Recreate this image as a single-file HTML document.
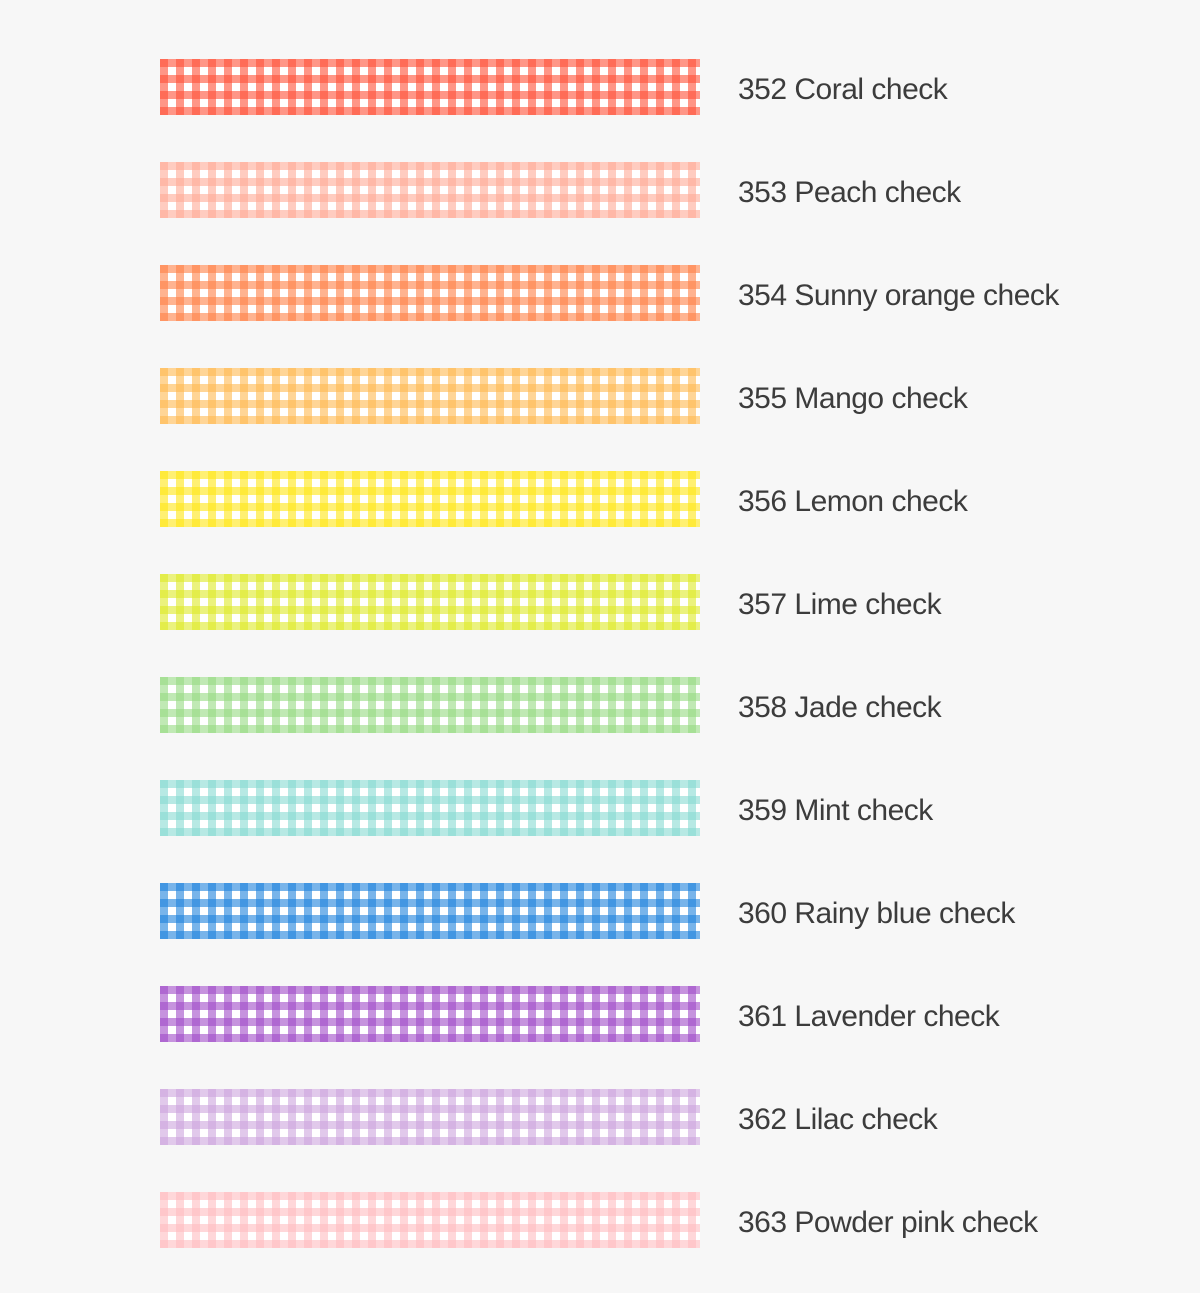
<!DOCTYPE html><html><head><style>
body{margin:0;width:1200px;height:1293px;background:#f7f7f7;overflow:hidden}
svg{display:block}
text{font-family:"Liberation Sans",sans-serif;font-size:30px;fill:#3c3c3c;letter-spacing:-0.5px}
</style></head><body>
<svg width="1200" height="1293" xmlns="http://www.w3.org/2000/svg">
<defs>
<pattern id="p0" width="16" height="16" patternUnits="userSpaceOnUse" x="160" y="59"><rect width="16" height="16" fill="#fff"/><rect width="8" height="16" fill="#ff5037" opacity=".6"/><rect width="16" height="8" fill="#ff5037" opacity=".6"/></pattern>
<pattern id="p1" width="16" height="16" patternUnits="userSpaceOnUse" x="160" y="162"><rect width="16" height="16" fill="#fff"/><rect width="8" height="16" fill="#ffaa96" opacity=".6"/><rect width="16" height="8" fill="#ffaa96" opacity=".6"/></pattern>
<pattern id="p2" width="16" height="16" patternUnits="userSpaceOnUse" x="160" y="265"><rect width="16" height="16" fill="#fff"/><rect width="8" height="16" fill="#ff8046" opacity=".6"/><rect width="16" height="8" fill="#ff8046" opacity=".6"/></pattern>
<pattern id="p3" width="16" height="16" patternUnits="userSpaceOnUse" x="160" y="368"><rect width="16" height="16" fill="#fff"/><rect width="8" height="16" fill="#ffb950" opacity=".6"/><rect width="16" height="8" fill="#ffb950" opacity=".6"/></pattern>
<pattern id="p4" width="16" height="16" patternUnits="userSpaceOnUse" x="160" y="471"><rect width="16" height="16" fill="#fff"/><rect width="8" height="16" fill="#ffe614" opacity=".6"/><rect width="16" height="8" fill="#ffe614" opacity=".6"/></pattern>
<pattern id="p5" width="16" height="16" patternUnits="userSpaceOnUse" x="160" y="574"><rect width="16" height="16" fill="#fff"/><rect width="8" height="16" fill="#deea28" opacity=".6"/><rect width="16" height="8" fill="#deea28" opacity=".6"/></pattern>
<pattern id="p6" width="16" height="16" patternUnits="userSpaceOnUse" x="160" y="677"><rect width="16" height="16" fill="#fff"/><rect width="8" height="16" fill="#96da82" opacity=".6"/><rect width="16" height="8" fill="#96da82" opacity=".6"/></pattern>
<pattern id="p7" width="16" height="16" patternUnits="userSpaceOnUse" x="160" y="780"><rect width="16" height="16" fill="#fff"/><rect width="8" height="16" fill="#87dad2" opacity=".6"/><rect width="16" height="8" fill="#87dad2" opacity=".6"/></pattern>
<pattern id="p8" width="16" height="16" patternUnits="userSpaceOnUse" x="160" y="883"><rect width="16" height="16" fill="#fff"/><rect width="8" height="16" fill="#1e82dc" opacity=".6"/><rect width="16" height="8" fill="#1e82dc" opacity=".6"/></pattern>
<pattern id="p9" width="16" height="16" patternUnits="userSpaceOnUse" x="160" y="986"><rect width="16" height="16" fill="#fff"/><rect width="8" height="16" fill="#a04bc8" opacity=".6"/><rect width="16" height="8" fill="#a04bc8" opacity=".6"/></pattern>
<pattern id="p10" width="16" height="16" patternUnits="userSpaceOnUse" x="160" y="1089"><rect width="16" height="16" fill="#fff"/><rect width="8" height="16" fill="#cda5de" opacity=".6"/><rect width="16" height="8" fill="#cda5de" opacity=".6"/></pattern>
<pattern id="p11" width="16" height="16" patternUnits="userSpaceOnUse" x="160" y="1192"><rect width="16" height="16" fill="#fff"/><rect width="8" height="16" fill="#ffbcc0" opacity=".6"/><rect width="16" height="8" fill="#ffbcc0" opacity=".6"/></pattern>
</defs>
<rect x="160" y="59" width="540" height="56" fill="url(#p0)"/><text x="738" y="99">352 Coral check</text>
<rect x="160" y="162" width="540" height="56" fill="url(#p1)"/><text x="738" y="202">353 Peach check</text>
<rect x="160" y="265" width="540" height="56" fill="url(#p2)"/><text x="738" y="305">354 Sunny orange check</text>
<rect x="160" y="368" width="540" height="56" fill="url(#p3)"/><text x="738" y="408">355 Mango check</text>
<rect x="160" y="471" width="540" height="56" fill="url(#p4)"/><text x="738" y="511">356 Lemon check</text>
<rect x="160" y="574" width="540" height="56" fill="url(#p5)"/><text x="738" y="614">357 Lime check</text>
<rect x="160" y="677" width="540" height="56" fill="url(#p6)"/><text x="738" y="717">358 Jade check</text>
<rect x="160" y="780" width="540" height="56" fill="url(#p7)"/><text x="738" y="820">359 Mint check</text>
<rect x="160" y="883" width="540" height="56" fill="url(#p8)"/><text x="738" y="923">360 Rainy blue check</text>
<rect x="160" y="986" width="540" height="56" fill="url(#p9)"/><text x="738" y="1026">361 Lavender check</text>
<rect x="160" y="1089" width="540" height="56" fill="url(#p10)"/><text x="738" y="1129">362 Lilac check</text>
<rect x="160" y="1192" width="540" height="56" fill="url(#p11)"/><text x="738" y="1232">363 Powder pink check</text>
</svg>
</body></html>
